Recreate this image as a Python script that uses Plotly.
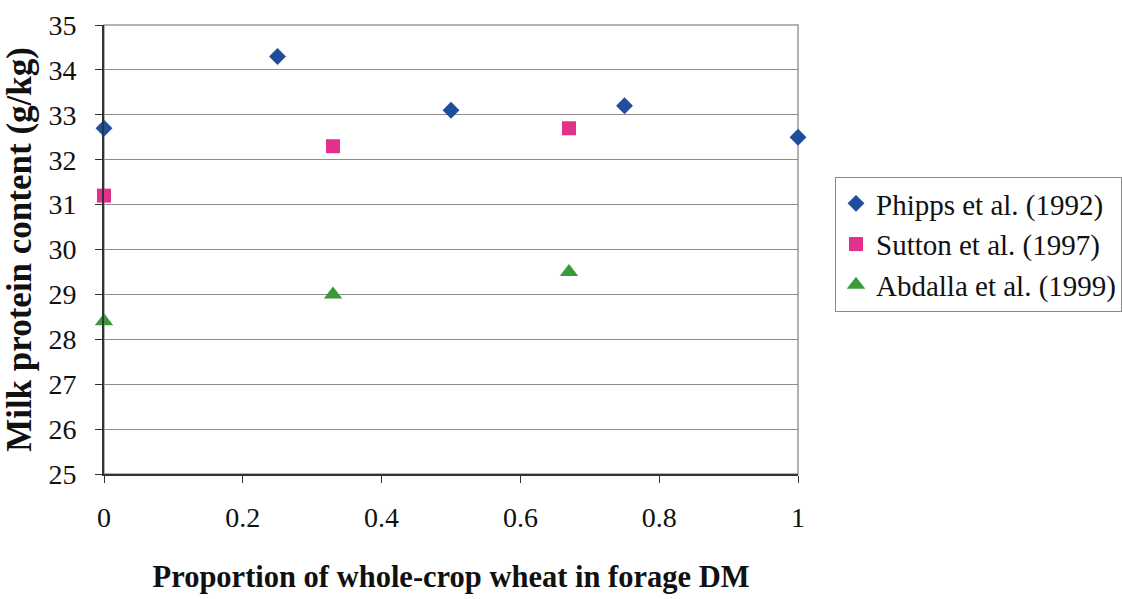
import plotly.graph_objects as go

# Milk protein content vs proportion of whole-crop wheat in forage DM
phipps_x = [0, 0.25, 0.5, 0.75, 1.0]
phipps_y = [32.7, 34.3, 33.1, 33.2, 32.5]

sutton_x = [0, 0.33, 0.67]
sutton_y = [31.2, 32.3, 32.7]

abdalla_x = [0, 0.33, 0.67]
abdalla_y = [28.4, 29.0, 29.5]

x_ticks = [0, 0.2, 0.4, 0.6, 0.8, 1]
x_tick_labels = ["0", "0.2", "0.4", "0.6", "0.8", "1"]
y_ticks = list(range(25, 36))

FONT = "Liberation Serif, Times New Roman, serif"

fig = go.Figure()
fig.add_trace(go.Scatter(x=phipps_x, y=phipps_y, mode="markers", name="Phipps et al. (1992)",
                         marker=dict(symbol="diamond", size=13, color="#1F4E9E"), cliponaxis=False))
fig.add_trace(go.Scatter(x=sutton_x, y=sutton_y, mode="markers", name="Sutton et al. (1997)",
                         marker=dict(symbol="square", size=14, color="#E3308A"), cliponaxis=False))
fig.add_trace(go.Scatter(x=abdalla_x, y=abdalla_y, mode="markers", name="Abdalla et al. (1999)",
                         marker=dict(symbol="triangle-up", size=16, color="#3A9A3A"), cliponaxis=False))

# light frame around the plotting area (top and right edges)
fig.add_shape(type="rect", xref="paper", yref="paper", x0=0, y0=0, x1=1, y1=1,
              line=dict(color="#9a9a9a", width=1.5), layer="below")

fig.update_layout(
    width=1122, height=599,
    margin=dict(l=104, r=324, t=25, b=125, autoexpand=False),
    paper_bgcolor="white", plot_bgcolor="white",
    font=dict(family=FONT, size=28, color="#111111"),
    showlegend=True,
    legend=dict(xref="container", yref="container", x=835 / 1122, y=1 - 177 / 599,
                xanchor="left", yanchor="top",
                bordercolor="#8a8a8a", borderwidth=1, bgcolor="white",
                font=dict(family=FONT, size=29, color="#111111"),
                itemwidth=30, tracegroupgap=0),
    xaxis=dict(range=[0, 1], tickvals=x_ticks, ticktext=x_tick_labels,
               showgrid=False, zeroline=False, showline=True, linecolor="#333333", linewidth=2,
               ticks="outside", ticklen=7, tickcolor="#333333", ticklabelstandoff=10,
               tickfont=dict(family=FONT, size=28),
               title=dict(text="<b>Proportion of whole-crop wheat in forage DM</b>",
                          font=dict(family=FONT, size=30.5), standoff=34)),
    yaxis=dict(range=[25, 35], tickvals=y_ticks,
               showgrid=True, gridcolor="#8c8c8c", gridwidth=1, zeroline=False,
               showline=True, linecolor="#333333", linewidth=2,
               ticks="outside", ticklen=7, tickcolor="#333333", ticklabelstandoff=13,
               tickfont=dict(family=FONT, size=28),
               title=dict(text="<b>Milk protein content (g/kg)</b>",
                          font=dict(family=FONT, size=35), standoff=6)),
)

fig.write_html("out.html")
